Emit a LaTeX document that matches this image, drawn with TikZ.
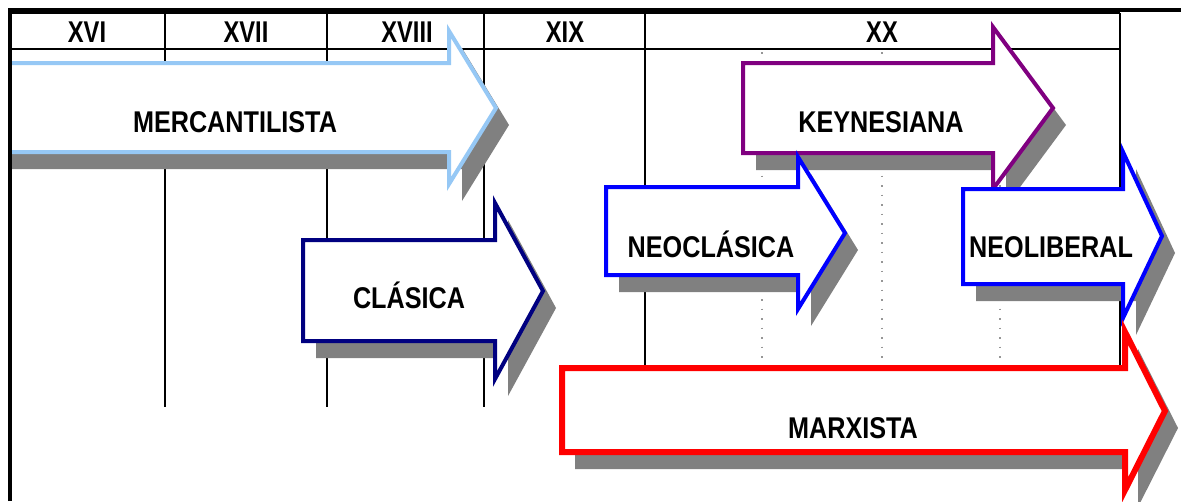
\documentclass[tikz,border=0pt]{standalone}
\usepackage{fontspec}
\setmainfont{Liberation Sans}
\usepackage{graphicx}

\definecolor{mercblue}{RGB}{150,200,245}
\definecolor{keynpurple}{RGB}{128,0,128}
\definecolor{clasnavy}{RGB}{0,0,128}
\definecolor{neoblue}{RGB}{0,0,255}
\definecolor{marxred}{RGB}{255,0,0}
\definecolor{shadowgray}{RGB}{128,128,128}
\definecolor{dotgray}{RGB}{150,150,150}

% block arrow with a drop shadow
% #1 style, #2 left x, #3 shaft top, #4 shaft bottom, #5 head base x,
% #6 head top, #7 head bottom, #8 tip x, #9 tip y
\newcommand\periodarrow[9]{%
  \fill[shadowgray, shift={(13,17)}]
    (#2,#3) -- (#5,#3) -- (#5,#6) -- (#8,#9) -- (#5,#7) -- (#5,#4) -- (#2,#4) -- cycle;
  \draw[#1, fill=white, line join=miter]
    (#2,#3) -- (#5,#3) -- (#5,#6) -- (#8,#9) -- (#5,#7) -- (#5,#4) -- (#2,#4) -- cycle;
}
\newcommand\narrow[1]{\scalebox{0.84}[1]{#1}}
\newcommand\hnarrow[1]{\scalebox{0.79}[1]{#1}}

\tikzset{
  eralabel/.style={font=\fontsize{30}{32}\selectfont\bfseries, inner sep=0pt, anchor=base},
  century/.style={font=\fontsize{30}{32}\selectfont\bfseries, inner sep=0pt, anchor=base},
  frameline/.style={line width=4},
  gridline/.style={line width=1.2},
  guide/.style={dotgray, line width=1.2, dash pattern=on 1.5 off 8},
  mercstyle/.style={mercblue, line width=4},
  keynstyle/.style={keynpurple, line width=4},
  classtyle/.style={clasnavy, line width=4},
  neostyle/.style={neoblue, line width=4},
  marxstyle/.style={marxred, line width=6},
}

\begin{document}
\begin{tikzpicture}[x=1pt, y=-1pt]
\clip (0,0) rectangle (1181,501);
\fill[white] (0,0) rectangle (1181,501);

% century header and column rules
\draw[gridline] (10,13) -- (1120,13);
\draw[gridline] (10,49) -- (1120,49);
\foreach \cx in {165,327,484,645,1120}
  \draw[gridline] (\cx,13) -- (\cx,407);
\foreach \cx in {762,882,1000}
  \draw[guide] (\cx,52) -- (\cx,368);

\node[century] (c16) at (87,42) {\hnarrow{XVI}};
\node[century] (c17) at (246,42) {\hnarrow{XVII}};
\node[century] (c18) at (407,42) {\hnarrow{XVIII}};
\node[century] (c19) at (565,42) {\hnarrow{XIX}};
\node[century] (c20) at (882,42) {\hnarrow{XX}};

% schools of economic thought
\periodarrow{mercstyle}{-4}{63}{152}{449}{31}{184}{496}{108}
\node[eralabel] (merc) at (235,132) {\narrow{MERCANTILISTA}};

\periodarrow{classtyle}{303}{240}{341}{495}{203}{379}{543}{291}
\node[eralabel] (clas) at (409,308) {\narrow{CLÁSICA}};

\periodarrow{keynstyle}{743}{63}{153}{993}{27}{189}{1053}{108}
\node[eralabel] (keyn) at (881,132) {\narrow{KEYNESIANA}};

\periodarrow{neostyle}{606}{187}{275}{798}{157}{309}{845}{233}
\node[eralabel] (neocl) at (711,257) {\narrow{NEOCLÁSICA}};

\periodarrow{neostyle}{963}{189}{284}{1123}{152}{318}{1162}{236}
\node[eralabel, anchor=base west] (neolib) at (969,257) {\narrow{NEOLIBERAL}};

\periodarrow{marxstyle}{562}{368}{452}{1125}{332}{490}{1165}{411}
\node[eralabel] (marx) at (853,438) {\narrow{MARXISTA}};

% margin outside the frame stays blank
\fill[white] (0,12) rectangle (7.5,501);
% outer frame, over the left end of the first arrow
\draw[frameline] (9.5,501) -- (9.5,9.5) -- (1181,9.5);
\end{tikzpicture}
\end{document}
